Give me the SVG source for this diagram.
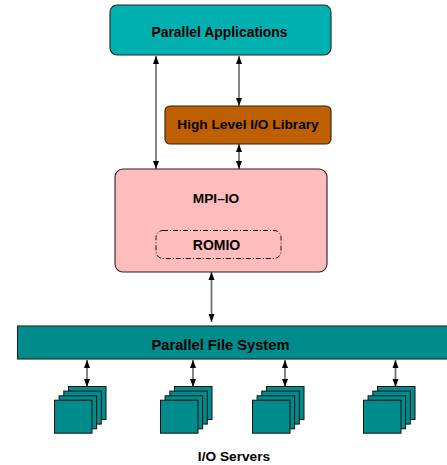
<svg xmlns="http://www.w3.org/2000/svg" width="447" height="465" viewBox="0 0 447 465">
<style>
text{font-family:"Liberation Sans",Arial,sans-serif;font-weight:bold;font-size:13.7px;fill:#000;text-anchor:middle}
.b{stroke:#222;stroke-width:1.1}
.s{fill:#008c8c;stroke:#111;stroke-width:1}
.c{fill:none;stroke:#666;stroke-width:1.6;marker-start:url(#as);marker-end:url(#ae)}
</style>
<defs>
<marker id="ae" markerUnits="userSpaceOnUse" markerWidth="7" markerHeight="9" refX="3.500" refY="8.500" orient="0" viewBox="0 0 7 9"><path d="M0.500 0.500L6.500 0.500L3.500 8.500Z" fill="#000"/></marker>
<marker id="as" markerUnits="userSpaceOnUse" markerWidth="7" markerHeight="9" refX="3.500" refY="0.500" orient="0" viewBox="0 0 7 9"><path d="M3.500 0.500L6.500 8.500L0.500 8.500Z" fill="#000"/></marker>
<g id="stack"><rect class="s" x="14" y="0" width="37.500" height="33"/><rect class="s" x="9.300" y="4.600" width="37.500" height="33"/><rect class="s" x="4.600" y="9.300" width="37.500" height="33"/><rect class="s" x="0" y="13.700" width="37.500" height="33"/></g>
</defs>
<g id="connectors">
<path class="c" d="M156 56V169"/>
<path class="c" d="M239 56V106"/>
<path class="c" d="M239 144V169"/>
<path class="c" d="M211.500 272V322"/>
<path class="c" d="M87 360V387"/>
<path class="c" d="M193 360V387"/>
<path class="c" d="M285 360V387"/>
<path class="c" d="M395.500 360V387"/>
</g>
<g id="parallel-applications"><rect class="b" x="110" y="5" width="221" height="50" rx="7" fill="#00b0b0"/><text x="219.500" y="37" font-size="13.900" style="font-size:13.900px">Parallel Applications</text></g>
<g id="high-level-io"><rect class="b" x="165" y="106" width="166" height="38" rx="5" fill="#bf6000"/><text x="248" y="129">High Level I/O Library</text></g>
<g id="mpi-io"><rect class="b" x="115" y="169" width="212" height="103" rx="8" fill="#ffbcbc"/><text x="216" y="203">MPI–IO</text></g>
<g id="romio"><rect x="156" y="230.500" width="125" height="28" rx="7" fill="none" stroke="#000" stroke-width="0.9" stroke-dasharray="5 2 1 2"/><text x="216.500" y="249.500" style="font-size:14px">ROMIO</text></g>
<g id="parallel-file-system"><rect class="b" x="17.500" y="326" width="431" height="33" fill="#008c8c"/><text x="220.500" y="350" style="font-size:14.700px">Parallel File System</text></g>
<use id="server-1" href="#stack" x="54.500" y="386.500"/>
<use id="server-2" href="#stack" x="160.500" y="386.500"/>
<use id="server-3" href="#stack" x="252.500" y="386.500"/>
<use id="server-4" href="#stack" x="363.500" y="386.500"/>
<g id="io-servers"><text x="234" y="460.500">I/O Servers</text></g>
</svg>
